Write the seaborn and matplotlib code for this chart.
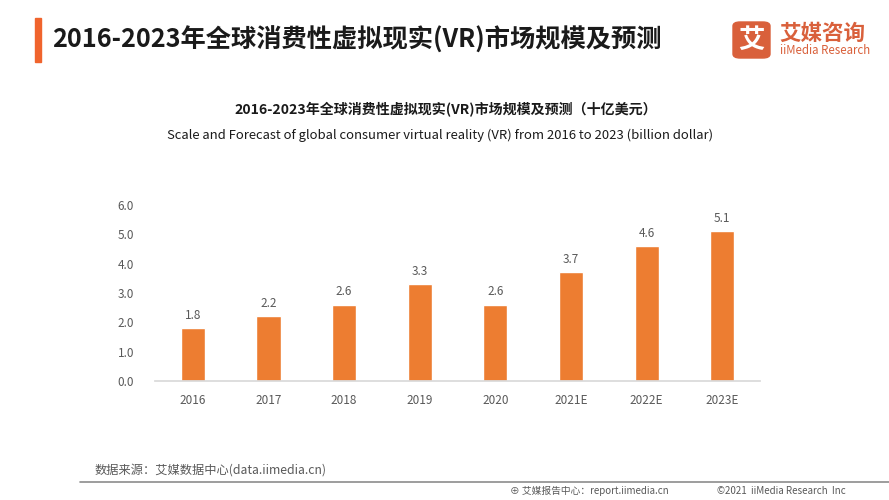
import matplotlib
matplotlib.use("Agg")
import matplotlib.pyplot as plt
import seaborn as sns
import pandas as pd
from matplotlib.patches import Rectangle, FancyBboxPatch

sns.set_theme(style="white")
plt.rcParams['font.family'] = ['Noto Sans CJK SC', 'DejaVu Sans']

# 数据
years = ['2016', '2017', '2018', '2019', '2020', '2021E', '2022E', '2023E']
scale = [1.8, 2.2, 2.6, 3.3, 2.6, 3.7, 4.6, 5.1]
yticks = [0.0, 1.0, 2.0, 3.0, 4.0, 5.0, 6.0]

bar_color = '#ED7D31'
txt_gray = '#595959'

df = pd.DataFrame({'year': years, 'scale': scale})

fig = plt.figure(figsize=(8.89, 5.0), dpi=100)
ax = fig.add_axes([0.1744, 0.238, 0.6806, 0.352])

sns.barplot(data=df, x='year', y='scale', color=bar_color, width=0.32,
            saturation=1, ax=ax)

for i, v in enumerate(scale):
    ax.text(i, v + 0.22, f'{v:.1f}', ha='center', va='bottom', fontsize=8.5, color=txt_gray)

ax.set_xlim(-0.5, len(years) - 0.5)
ax.set_ylim(0, 6)
ax.set_yticks(yticks)
ax.set_yticklabels([f'{t:.1f}' for t in yticks])
ax.set_xlabel('')
ax.set_ylabel('')
for s in ['top', 'right', 'left']:
    ax.spines[s].set_visible(False)
ax.spines['bottom'].set_color('#D9D9D9')
ax.tick_params(axis='both', length=0, labelsize=8.5, colors=txt_gray)
ax.tick_params(axis='x', pad=9)
ax.tick_params(axis='y', pad=15)

# 页眉
fig.patches.append(Rectangle((35 / 889, 1 - 62 / 500), 6 / 889, 44 / 500,
                             transform=fig.transFigure, color='#F0642D'))
fig.text(52 / 889, 1 - 40 / 500, '2016-2023年全球消费性虚拟现实(VR)市场规模及预测',
         fontsize=18.2, fontweight='bold', va='center', ha='left', color='#1a1a1a')

# logo
fig.patches.append(FancyBboxPatch((733 / 889, 1 - 58 / 500), 37 / 889, 36 / 500,
                                  boxstyle='round,pad=0,rounding_size=0.008',
                                  transform=fig.transFigure, color='#D9603B'))
fig.text(751.5 / 889, 1 - 40 / 500, '艾', fontsize=19, fontweight='bold', color='white',
         ha='center', va='center')
fig.text(779 / 889, 1 - 33 / 500, '艾媒咨询', fontsize=15.5, fontweight='bold',
         color='#D9603B', ha='left', va='center')
fig.text(780 / 889, 1 - 51 / 500, 'iiMedia Research', fontsize=8.3,
         color='#D9603B', ha='left', va='center')

# 图表标题
fig.text(446 / 889, 1 - 110 / 500, '2016-2023年全球消费性虚拟现实(VR)市场规模及预测（十亿美元）',
         fontsize=10.1, fontweight='bold', ha='center', va='center', color='#1a1a1a')
fig.text(440 / 889, 1 - 135 / 500,
         'Scale and Forecast of global consumer virtual reality (VR) from 2016 to 2023 (billion dollar)',
         fontsize=9.4, ha='center', va='center', color='#1a1a1a')

# 页脚
fig.text(95 / 889, 1 - 470 / 500, '数据来源：艾媒数据中心(data.iimedia.cn)',
         fontsize=8.8, ha='left', va='center', color=txt_gray)
fig.add_artist(plt.Line2D([80 / 889, 1], [1 - 482 / 500, 1 - 482 / 500],
                          transform=fig.transFigure, color='#8C8C8C', lw=1.2))
fig.text(510 / 889, 1 - 491 / 500, '⊕ 艾媒报告中心：report.iimedia.cn',
         fontsize=7, ha='left', va='center', color=txt_gray)
fig.text(717 / 889, 1 - 491 / 500, '©2021  iiMedia Research  Inc',
         fontsize=7, ha='left', va='center', color=txt_gray)

fig.savefig('out.png', dpi=100)
